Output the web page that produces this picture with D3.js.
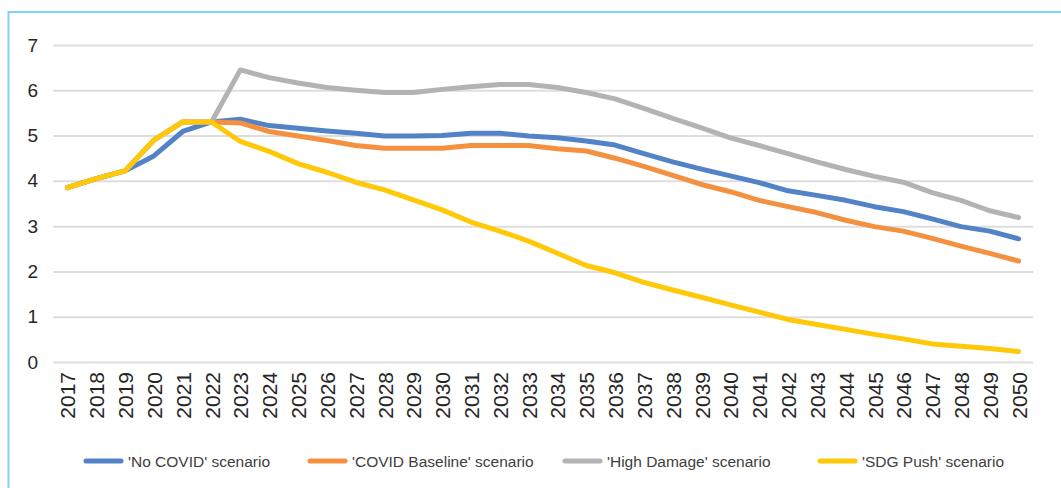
<!DOCTYPE html>
<html>
<head>
<meta charset="utf-8">
<script src="https://cdn.jsdelivr.net/npm/d3@7"></script>
<style>
  html, body { margin: 0; padding: 0; background: #fff; }
  svg { display: block; font-family: Arial, "Liberation Sans", sans-serif; }
</style>
</head>
<body>
<svg id="chart" width="1061" height="488"></svg>
<script>
// Years on the x axis
const years = [2017, 2018, 2019, 2020, 2021, 2022, 2023, 2024, 2025, 2026, 2027,
  2028, 2029, 2030, 2031, 2032, 2033, 2034, 2035, 2036, 2037, 2038, 2039, 2040,
  2041, 2042, 2043, 2044, 2045, 2046, 2047, 2048, 2049, 2050];

// Scenario series
const noCovid = [3.85, 4.05, 4.22, 4.55, 5.09, 5.3, 5.36, 5.22, 5.16, 5.1, 5.05,
  4.99, 4.99, 5.0, 5.05, 5.05, 4.99, 4.95, 4.88, 4.79, 4.6, 4.42, 4.26, 4.11,
  3.96, 3.78, 3.68, 3.57, 3.43, 3.32, 3.16, 2.99, 2.89, 2.72];
const covidBaseline = [3.85, 4.05, 4.22, 4.9, 5.3, 5.3, 5.28, 5.09, 4.99, 4.89, 4.78,
  4.72, 4.72, 4.72, 4.78, 4.78, 4.78, 4.71, 4.66, 4.5, 4.32, 4.12, 3.92, 3.76,
  3.57, 3.43, 3.3, 3.13, 2.99, 2.89, 2.73, 2.56, 2.4, 2.23];
const highDamage = [3.85, 4.05, 4.22, 4.9, 5.3, 5.3, 6.45, 6.28, 6.16, 6.06, 6.0,
  5.95, 5.95, 6.02, 6.08, 6.13, 6.13, 6.06, 5.95, 5.81, 5.6, 5.38, 5.17, 4.95,
  4.78, 4.6, 4.42, 4.25, 4.1, 3.97, 3.74, 3.57, 3.34, 3.19];
const sdgPush = [3.85, 4.05, 4.22, 4.9, 5.3, 5.3, 4.87, 4.65, 4.38, 4.19, 3.97,
  3.8, 3.58, 3.36, 3.09, 2.89, 2.67, 2.4, 2.13, 1.97, 1.76, 1.59, 1.43, 1.26,
  1.1, 0.94, 0.83, 0.72, 0.61, 0.51, 0.4, 0.35, 0.3, 0.23];

const seriesNames = ["'No COVID' scenario", "'COVID Baseline' scenario",
  "'High Damage' scenario", "'SDG Push' scenario"];
const seriesColors = ["#5283c7", "#f39140", "#b3b3b3", "#ffc808"];
const yTicks = [0, 1, 2, 3, 4, 5, 6, 7];

const series = [noCovid, covidBaseline, highDamage, sdgPush].map((vals, i) => ({
  name: seriesNames[i], color: seriesColors[i], values: vals
}));

const svg = d3.select("#chart");
const W = 1061, H = 488;

// Frame around the chart area
svg.append("rect")
  .attr("x", 8.5).attr("y", 12)
  .attr("width", W + 10).attr("height", H + 10)
  .attr("fill", "none")
  .attr("stroke", "#7dd6f8")
  .attr("stroke-width", 2);

const plot = { left: 53, right: 1033, top: 45, bottom: 362 };

const x = d3.scalePoint()
  .domain(years)
  .range([plot.left, plot.right])
  .padding(0.5);

const y = d3.scaleLinear()
  .domain([0, 7])
  .range([plot.bottom, plot.top]);

// Horizontal gridlines
svg.append("g")
  .attr("transform", `translate(${plot.left},0)`)
  .call(d3.axisLeft(y).tickValues(yTicks).tickSize(-(plot.right - plot.left)).tickFormat(""))
  .call(g => g.select(".domain").remove())
  .call(g => g.selectAll(".tick line").attr("stroke", "#dedede").attr("stroke-width", 2));

// Y axis labels
svg.append("g")
  .attr("transform", `translate(38,0)`)
  .call(d3.axisLeft(y).tickValues(yTicks).tickSize(0).tickPadding(0).tickFormat(d3.format("d")))
  .call(g => g.select(".domain").remove())
  .call(g => g.selectAll(".tick text")
    .attr("fill", "#262626")
    .attr("font-size", "19px")
    .attr("font-family", "Arial, 'Liberation Sans', sans-serif"));

// X axis labels (rotated years)
svg.append("g")
  .attr("transform", `translate(0,${plot.bottom})`)
  .call(d3.axisBottom(x).tickSize(0).tickPadding(0))
  .call(g => g.select(".domain").remove())
  .call(g => g.selectAll(".tick text")
    .attr("fill", "#262626")
    .attr("font-size", "21px")
    .attr("font-family", "Arial, 'Liberation Sans', sans-serif")
    .attr("text-anchor", "end")
    .attr("transform", "rotate(-90)")
    .attr("x", -10)
    .attr("y", 0)
    .attr("dy", "0.36em"));

// Scenario lines
const line = d3.line()
  .x((d, i) => x(years[i]))
  .y(d => y(d));

svg.append("g")
  .selectAll("path")
  .data(series)
  .join("path")
  .attr("d", d => line(d.values))
  .attr("fill", "none")
  .attr("stroke", d => d.color)
  .attr("stroke-width", 5)
  .attr("stroke-linejoin", "round")
  .attr("stroke-linecap", "round");

// Legend
const legendX = [86, 310, 565, 820];
const legend = svg.append("g")
  .selectAll("g")
  .data(series)
  .join("g")
  .attr("transform", (d, i) => `translate(${legendX[i]},461)`);

legend.append("line")
  .attr("x1", 0).attr("x2", 35)
  .attr("stroke", d => d.color)
  .attr("stroke-width", 5)
  .attr("stroke-linecap", "round");

legend.append("text")
  .attr("x", 42)
  .attr("dy", "0.36em")
  .attr("font-size", "15.5px")
  .attr("fill", "#404040")
  .text(d => d.name);
</script>
</body>
</html>
